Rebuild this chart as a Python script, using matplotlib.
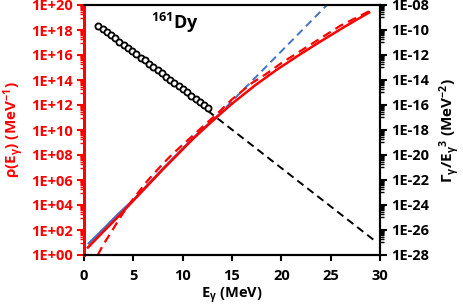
import matplotlib
matplotlib.use("Agg")
import matplotlib.pyplot as plt
from matplotlib.ticker import FixedLocator, NullFormatter, FuncFormatter
import numpy as np

plt.rcParams['font.family'] = ['Open Sans', 'DejaVu Sans']
plt.rcParams['font.weight'] = 'bold'
plt.rcParams['mathtext.fontset'] = 'custom'
plt.rcParams['mathtext.bf'] = 'Open Sans:bold'
plt.rcParams['mathtext.rm'] = 'Open Sans:bold'
plt.rcParams['mathtext.it'] = 'Open Sans:bold'
plt.rcParams['mathtext.default'] = 'bf'

# ---- data ----
# level density, model 1 (blue solid) and its extrapolation (blue dashed)
blue_E = [0.5, 2.0, 3.5, 5.0, 6.5, 8.0, 9.5, 11.0, 12.5, 13.5]
blue_logrho = [0.94, 2.1, 3.3, 4.4, 5.65, 6.9, 8.1, 9.3, 10.4, 11.1]
blue_ext_E = [13.5, 25.0]
blue_ext_logrho = [11.1, 20.3]

# level density, model 2 (red solid)
red_E = [0.4, 2.0, 3.3, 5.0, 6.5, 8.0, 9.5, 11.0, 12.5, 13.5, 15.0, 17.3, 19.5, 21.8, 24.0, 26.5, 28.9]
red_logrho = [0.6, 1.9, 2.93, 4.35, 5.6, 6.85, 8.05, 9.25, 10.35, 11.06, 12.1, 13.55, 14.8, 16.0, 17.1, 18.3, 19.4]

# level density, model 3 (red dashed)
redd_E = [1.4, 2.0, 2.7, 3.3, 4.0, 5.0, 6.5, 8.0, 9.0, 11.1, 12.5, 13.5, 15.0, 17.0, 18.4, 20.0, 22.0, 24.0, 26.0, 28.9]
redd_logrho = [0.0, 0.9, 1.75, 2.53, 3.4, 4.5, 6.0, 7.3, 8.1, 9.6, 10.6, 11.3, 12.45, 13.75, 14.45, 15.35, 16.35, 17.35, 18.35, 19.5]

# gamma strength Gamma/E^3 (black circles) and fit (black dashed)
gam_E = [1.45, 1.88, 2.31, 2.74, 3.17, 3.59, 4.02, 4.45, 4.88, 5.31, 5.74, 6.17, 6.60, 7.03,
         7.45, 7.88, 8.31, 8.74, 9.17, 9.60, 10.03, 10.46, 10.88, 11.31, 11.74, 12.17, 12.60]
gam_log = [-9.66, -9.90, -10.16, -10.43, -10.67, -10.93, -11.19, -11.44, -11.68, -11.95, -12.21,
           -12.44, -12.70, -12.97, -13.21, -13.46, -13.73, -13.98, -14.22, -14.49, -14.74, -14.98,
           -15.25, -15.50, -15.74, -16.01, -16.26]
fit_E = [1.4, 29.7]
fit_log = [-9.62, -27.0]

xticks = [0, 5, 10, 15, 20, 25, 30]

# ---- figure ----
fig = plt.figure(figsize=(4.63, 3.07), dpi=100)
ax = fig.add_axes([84/463, 1-255/307, 296/463, 250/307])
ax2 = ax.twinx()

ax.plot(red_E, np.power(10.0, red_logrho), color='#FF0000', lw=1.8, zorder=3)
ax.plot(redd_E, np.power(10.0, redd_logrho), color='#FF0000', lw=1.6, ls=(0, (4, 2.5)), zorder=3)
ax.plot(blue_E, np.power(10.0, blue_logrho), color='#4472C4', lw=1.8, zorder=2)
ax.plot(blue_ext_E, np.power(10.0, blue_ext_logrho), color='#4472C4', lw=1.4, ls=(0, (4, 2.5)), zorder=2)

ax2.plot(fit_E, np.power(10.0, fit_log), color='black', lw=1.4, ls=(0, (4, 2.5)), zorder=2)
ax2.plot(gam_E, np.power(10.0, gam_log), ls='none', marker='o', ms=4.4, mfc='white',
         mec='black', mew=1.3, zorder=3)

ax.set_xlim(0, 30)
ax.set_yscale('log')
ax.set_ylim(1e0, 1e20)
ax2.set_yscale('log')
ax2.set_ylim(1e-28, 1e-8)

ax.set_xticks(xticks)
ax.set_xticklabels([str(t) for t in xticks])

def minor_positions(lo, hi):
    pos = []
    for k in range(lo, hi, 2):
        for m in range(10, 100, 10):
            pos.append(m * 10.0**k)
    return pos

ax.yaxis.set_major_locator(FixedLocator([10.0**k for k in range(0, 21, 2)]))
ax.yaxis.set_minor_locator(FixedLocator(minor_positions(0, 20)))
ax.yaxis.set_major_formatter(FuncFormatter(lambda v, p: "1E+%02d" % int(round(np.log10(v)))))
ax.yaxis.set_minor_formatter(NullFormatter())

ax2.yaxis.set_major_locator(FixedLocator([10.0**k for k in range(-28, -7, 2)]))
ax2.yaxis.set_minor_locator(FixedLocator(minor_positions(-28, -8)))
ax2.yaxis.set_major_formatter(FuncFormatter(lambda v, p: "1E-%02d" % int(round(-np.log10(v)))))
ax2.yaxis.set_minor_formatter(NullFormatter())

for sp in ['top', 'bottom', 'right']:
    ax2.spines[sp].set_color('black')
    ax2.spines[sp].set_linewidth(1.5)
ax2.spines['left'].set_color('#FF0000')
ax2.spines['left'].set_linewidth(2.0)
ax.spines['left'].set_color('#FF0000')
ax.spines['left'].set_linewidth(2.0)
for sp in ['top', 'bottom', 'right']:
    ax.spines[sp].set_linewidth(1.5)

ax.tick_params(axis='x', direction='out', length=4, width=1.5, labelsize=10.5, colors='black', pad=6)
ax.tick_params(axis='y', which='major', direction='out', length=5, width=1.5, colors='#FF0000',
               labelsize=10.5, labelcolor='#FF0000', pad=3)
ax.tick_params(axis='y', which='minor', direction='out', length=3, width=1.0, colors='#FF0000')
ax2.tick_params(axis='y', which='major', direction='out', length=5, width=1.5, colors='black',
                labelsize=10.5, pad=3)
ax2.tick_params(axis='y', which='minor', direction='out', length=3, width=1.0, colors='black')

for lab in ax.get_xticklabels() + ax.get_yticklabels() + ax2.get_yticklabels():
    lab.set_fontweight('bold')

ax.set_xlabel(r'E$_{γ}$ (MeV)', fontsize=10.5, fontweight='bold', labelpad=2)
ax.set_ylabel(r'ρ(E$_{γ}$) (MeV$^{-1}$)', fontsize=11, fontweight='bold', color='#FF0000', labelpad=4)
ax2.set_ylabel(r'Γ$_{γ}$/E$_{γ}$$^{3}$ (MeV$^{-2}$)', fontsize=11, fontweight='bold', color='black',
               rotation=90, labelpad=6)

ax.text(0.307, 0.93, r'$^{161}$Dy', transform=ax.transAxes, ha='center', va='center',
        fontsize=13, fontweight='bold')

fig.savefig('out.png', dpi=100)
